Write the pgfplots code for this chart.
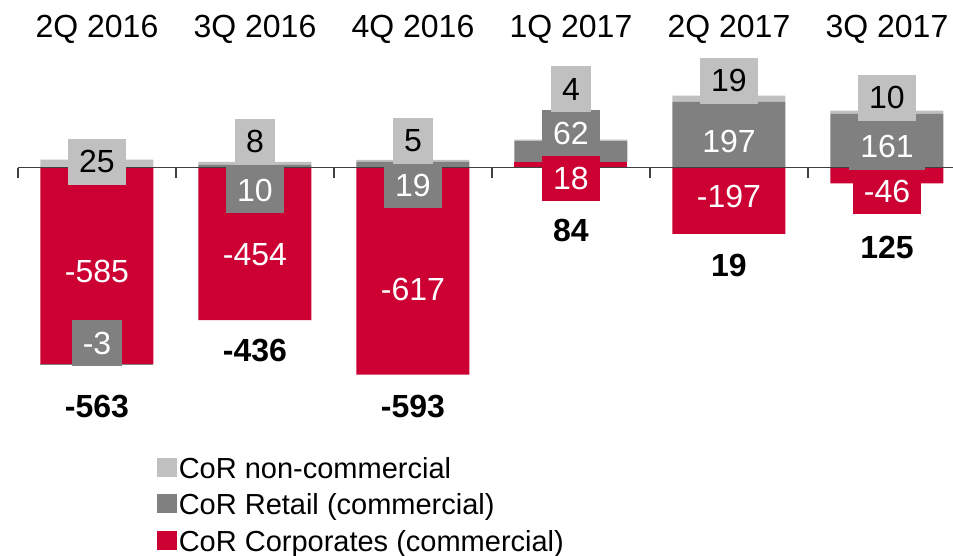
\documentclass[border=0pt]{standalone}
\usepackage{fontspec}
\setmainfont{Liberation Sans}
\usepackage{pgfplots}
\pgfplotsset{compat=1.18}
\definecolor{corp}{HTML}{CC0033}
\definecolor{retail}{HTML}{808080}
\definecolor{noncom}{HTML}{C0C0C0}
\newcommand{\lbl}{\fontsize{32}{38}\selectfont}
\newcommand{\lab}[4]{\node[#1] at (axis cs:#2,#3) {#4};}
\pgfplotsset{
  base/.style={
    at={(18pt,0pt)}, anchor=south west,
    scale only axis, width=935pt, height=556pt,
    xmin=-0.5, xmax=5.418, ymin=-1158, ymax=501,
    ybar stacked, bar width=113pt, clip=false,
  },
}
\tikzset{
  box/.style={font=\lbl, inner xsep=11pt, inner ysep=0pt, minimum height=46pt},
  nc/.style={box, fill=noncom, text=black},
  rt/.style={box, fill=retail, text=white},
  cp/.style={box, fill=corp, text=white},
  tot/.style={font=\lbl\bfseries, anchor=base},
  cat/.style={font=\lbl, anchor=base},
}

\begin{document}
\begin{tikzpicture}
% positive parts, stacked upward from zero
\begin{axis}[base, hide axis,
  reverse legend,
  legend cell align=left,
  legend image code/.code={\fill[#1] (0pt,-8pt) rectangle (20pt,11pt);},
  legend style={draw=none, fill=none, font=\fontsize{29}{35}\selectfont,
    at={(0.145,0.185)}, anchor=north west, row sep=10pt,
    /tikz/every even column/.append style={column sep=3pt}}]
  \addplot[fill=corp, draw=none] coordinates {(0,0) (1,0) (2,0) (3,18) (4,0) (5,0)};
  \addlegendentry{CoR Corporates (commercial)}
  \addplot[fill=retail, draw=none] coordinates {(0,0) (1,10) (2,19) (3,62) (4,197) (5,161)};
  \addlegendentry{CoR Retail (commercial)}
  \addplot[fill=noncom, draw=none] coordinates {(0,25) (1,8) (2,5) (3,4) (4,19) (5,10)};
  \addlegendentry{CoR non-commercial}
\end{axis}
% negative parts, stacked downward from zero
\begin{axis}[base, hide axis]
  \addplot[fill=corp, draw=none] coordinates {(0,-585) (1,-454) (2,-617) (3,0) (4,-197) (5,-46)};
  \addplot[fill=retail, draw=none] coordinates {(0,-3) (1,0) (2,0) (3,0) (4,0) (5,0)};
\end{axis}
% zero line, ticks and labels on top
\begin{axis}[base,
  axis y line=none, axis x line=middle,
  axis line style={-, draw=black!75, line width=1.2pt},
  xtick={-0.5,0.5,...,4.5}, xticklabels={},
  tick align=outside, major tick length=10pt,
  xtick style={draw=black!75, line width=1.2pt}]
  % quarters
  \lab{cat}{0}{388}{2Q 2016}
  \lab{cat}{1}{388}{3Q 2016}
  \lab{cat}{2}{388}{4Q 2016}
  \lab{cat}{3}{388}{1Q 2017}
  \lab{cat}{4}{388}{2Q 2017}
  \lab{cat}{5}{388}{3Q 2017}
  % non-commercial
  \lab{nc}{0}{19}{25}
  \lab{nc}{1}{78}{8}
  \lab{nc}{2}{80}{5}
  \lab{nc}{3}{234}{4}
  \lab{nc}{4}{260}{19}
  \lab{nc}{5}{210}{10}
  % retail
  \lab{rt}{0}{-523}{-3}
  \lab{rt}{1}{-66}{10}
  \lab{rt}{2}{-51}{19}
  \lab{rt}{3}{104}{62}
  \lab{rt}{4}{78}{197}
  \lab{rt}{5}{63}{161}
  % corporates
  \lab{cp}{0}{-310}{-585}
  \lab{cp}{1}{-260}{-454}
  \lab{cp}{2}{-364}{-617}
  \lab{cp}{3}{-31}{18}
  \lab{cp}{4}{-86}{-197}
  \lab{cp}{5}{-69}{-46}
  % totals
  \lab{tot}{0}{-746}{-563}
  \lab{tot}{1}{-579}{-436}
  \lab{tot}{2}{-746}{-593}
  \lab{tot}{3}{-221}{84}
  \lab{tot}{4}{-325}{19}
  \lab{tot}{5}{-269}{125}
\end{axis}
\pgfresetboundingbox
\path (0,0) rectangle (953pt,556pt);
\end{tikzpicture}
\end{document}
